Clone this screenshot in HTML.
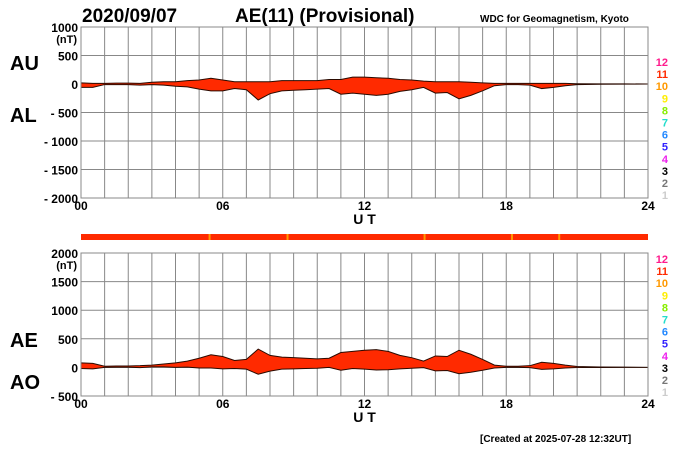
<!DOCTYPE html>
<html><head><meta charset="utf-8"><style>
body{margin:0;background:#fff;overflow:hidden;}
svg{display:block;font-family:"Liberation Sans",Arial,sans-serif;}
</style></head><body>
<svg id="chart" width="700" height="450" viewBox="0 0 700 450">
<text x="82" y="22" font-size="19" font-weight="bold">2020/09/07</text>
<text x="235" y="22" font-size="19" font-weight="bold">AE(11) (Provisional)</text>
<text x="480" y="22" font-size="10" font-weight="bold">WDC for Geomagnetism, Kyoto</text>
<text x="10" y="70" font-size="20" font-weight="bold">AU</text>
<text x="10" y="122" font-size="20" font-weight="bold">AL</text>
<text x="10" y="347" font-size="20" font-weight="bold">AE</text>
<text x="10" y="389" font-size="20" font-weight="bold">AO</text>
<text x="480" y="442" font-size="10" font-weight="bold">[Created at 2025-07-28 12:32UT]</text>
<g id="top"></g><g id="bot"></g><g id="bar"></g><g id="leg"></g>
</svg>
<script>
const hours=[0,0.5,1,1.5,2,2.5,3,3.5,4,4.5,5,5.5,6,6.5,7,7.5,8,8.5,9,9.5,10,10.5,11,11.5,12,12.5,13,13.5,14,14.5,15,15.5,16,16.5,17,17.5,18,18.5,19,19.5,20,20.5,21,22,23,24];
const auValues=[20,10,10,15,15,10,30,40,40,60,70,100,70,40,40,40,40,60,60,60,60,80,80,120,120,110,100,80,70,50,40,40,40,30,20,10,10,10,10,10,10,10,5,3,2,0];
const alValues=[-60,-60,-10,-10,-10,-20,-10,-20,-40,-50,-90,-120,-120,-80,-100,-280,-170,-120,-110,-100,-90,-80,-180,-160,-180,-200,-180,-130,-100,-60,-160,-150,-260,-200,-120,-30,-10,-10,-20,-80,-60,-30,-10,-5,-3,0];
const topTicks=[1000,500,0,-500,-1000,-1500,-2000];
const botTicks=[2000,1500,1000,500,0,-500];
const hourTicks=["00","06","12","18","24"];
const barMarks=[5.4,8.7,14.5,18.2,20.2];
const legendNums=["12","11","10","9","8","7","6","5","4","3","2","1"];
const legendColors=["#ff1a8c","#ff2a00","#ff9900","#ffee00","#88ee00","#22ddcc","#2288ff","#3322ff","#ee22ee","#000","#777","#ccc"];
const NS="http://www.w3.org/2000/svg";
const X0=81,X1=648;
const xs=h=>X0+h*(X1-X0)/24;
function mk(p,t,a){const e=document.createElementNS(NS,t);for(const k in a)e.setAttribute(k,a[k]);p.appendChild(e);return e;}
function panel(g,top,bot,vmax,vmin,ticks,upper,lower,name){
  const ys=v=>top+(vmax-v)*(bot-top)/(vmax-vmin);
  for(let h=0;h<=24;h++){const l=mk(g,'line',{x1:xs(h),x2:xs(h),y1:top,y2:bot,stroke:'#888','stroke-width':1});
    
    }
  ticks.forEach(v=>{const l=mk(g,'line',{x1:X0,x2:X1,y1:ys(v),y2:ys(v),stroke:'#888','stroke-width':1});
    
    
    const t=mk(g,'text',{x:X0-3,y:ys(v)+5,'font-size':12,'font-weight':'bold','text-anchor':'end'});
    t.textContent=v<0?'- '+(-v):String(v);
    
    });
  const u=mk(g,'text',{x:X0-4,y:ys(ticks[0])+16,'font-size':11,'font-weight':'bold','text-anchor':'end'});u.textContent='(nT)';
  
  
  let pts=hours.map((h,i)=>xs(h)+','+ys(upper[i]));
  for(let i=hours.length-1;i>=0;i--)pts.push(xs(hours[i])+','+ys(lower[i]));
  const p=mk(g,'polygon',{points:pts.join(' '),fill:'#ff2a00',stroke:'#2a0a00','stroke-width':1});
  
  
  const r=mk(g,'rect',{x:X0,y:top,width:X1-X0,height:bot-top,fill:'none',stroke:'#888'});
  
  
  hourTicks.forEach(s=>{const t=mk(g,'text',{x:xs(+s),y:bot+12,'font-size':12,'font-weight':'bold','text-anchor':'middle'});t.textContent=s;
    
    });
  const ut=mk(g,'text',{x:xs(12),y:bot+26,'font-size':14,'font-weight':'bold','text-anchor':'middle'});ut.textContent='U T';
  
  
}
const aeValues=auValues.map((a,i)=>a-alValues[i]);
const aoValues=auValues.map((a,i)=>(a+alValues[i])/2);
panel(document.getElementById('top'),27,198,1000,-2000,topTicks,auValues,alValues,'au-al-area');
panel(document.getElementById('bot'),253,396,2000,-500,botTicks,aeValues,aoValues,'ae-ao-area');
const bar=document.getElementById('bar');
const br=mk(bar,'rect',{x:X0,y:234,width:X1-X0,height:6,fill:'#ff2a00'});


barMarks.forEach(h=>{const m=mk(bar,'rect',{x:xs(h),y:234,width:2,height:6,fill:'#ff9900'});
  
  });
const leg=document.getElementById('leg');
[[66],[263]].forEach(([y0])=>{legendNums.forEach((n,i)=>{const t=mk(leg,'text',{x:668,y:y0+i*12.1,'font-size':11,'font-weight':'bold','text-anchor':'end',fill:legendColors[i]});t.textContent=n;
  
  });});
</script>
</body></html>
